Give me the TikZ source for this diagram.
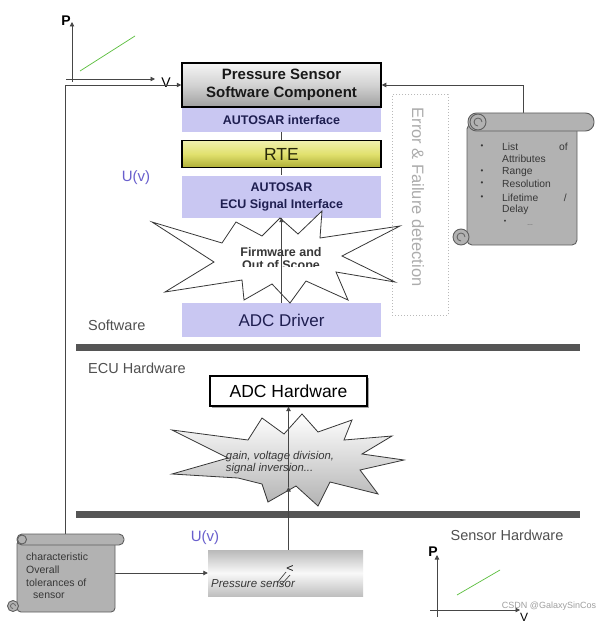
\documentclass[tikz,border=0pt]{standalone}
\usepackage{fontspec}
\setmainfont{Liberation Sans}
\usetikzlibrary{arrows.meta,shadows}
\definecolor{lav}{RGB}{201,199,242}
\definecolor{navy}{RGB}{30,30,80}
\definecolor{uvcol}{RGB}{105,95,205}
\definecolor{linec}{RGB}{70,70,70}
\definecolor{scrollf}{RGB}{178,178,178}
\definecolor{scrolld}{RGB}{95,95,95}
\definecolor{labgray}{RGB}{80,80,80}
\definecolor{txtdark}{RGB}{55,55,55}
\definecolor{rteTop}{RGB}{240,240,175}
\definecolor{rteBot}{RGB}{175,175,55}
\definecolor{rteMid}{RGB}{225,225,110}
\definecolor{greenl}{RGB}{90,190,60}
\definecolor{barc}{RGB}{85,85,85}
\begin{document}
\begin{tikzpicture}[x=1pt,y=-1pt,
  conn/.style={draw=linec, line width=0.8pt},
  arr/.style={conn, -{Triangle[length=4.5pt,width=4.5pt]}},
  lavbox/.style={fill=lav, minimum width=199pt, inner sep=0pt, text=navy, align=center},
  secl/.style={text=labgray, inner sep=0pt, font=\fontsize{14.5}{16}\selectfont},
  uv/.style={text=uvcol, inner sep=0pt, font=\fontsize{15}{17}\selectfont},
  sepbar/.style={draw=barc, line width=7pt},
  scrollsh/.style={fill=scrollf, draw=scrolld, line width=0.9pt},
  scrolltxt/.style={text=txtdark, inner sep=0pt, anchor=west},
  burst/.style={draw=txtdark, line width=0.8pt},
  axlab/.style={inner sep=0pt, font=\bfseries\fontsize{14}{16}\selectfont}
]
\useasboundingbox (0,0) rectangle (602,623);
\fill[white] (0,0) rectangle (602,623);

% ---- top-left P/V graph
\coordinate (ya1) at (72,82);
\coordinate (yb1) at (72,22);
\coordinate (xa1) at (66,79);
\coordinate (xb1) at (155,79);
\draw[arr] (ya1) -- (yb1);
\draw[arr] (xa1) -- (xb1);
\node[axlab] (p1) at (66,21) {P};
\node[inner sep=0pt, font=\fontsize{14}{16}\selectfont] (v1) at (166,83) {V};
\draw[greenl, line width=0.7pt] (80,71) -- (135,36);

% ---- bottom-right P/V graph
\coordinate (ya2) at (437,617);
\coordinate (yb2) at (437,555);
\coordinate (xa2) at (430,610);
\coordinate (xb2) at (520,610);
\draw[arr] (ya2) -- (yb2);
\draw[arr] (xa2) -- (xb2);
\node[axlab] (p2) at (433,552) {P};
\node[inner sep=0pt, font=\fontsize{12}{14}\selectfont] (v2) at (524,617) {V};
\draw[greenl, line width=0.7pt] (457,595) -- (500,570);

% ---- software stack
\node[draw=black, line width=1.5pt, top color=gray!8, bottom color=gray!75, middle color=gray!35,
  minimum width=199pt, minimum height=44pt, inner sep=0pt, align=center,
  text={rgb,255:red,25;green,25;blue,25}, font=\bfseries\fontsize{15}{18}\selectfont]
  (swc) at (281.5,85) {Pressure Sensor\\Software Component};
\node[lavbox, minimum height=24pt, font=\bfseries\fontsize{12.5}{15}\selectfont] (aif) at (281.5,120) {AUTOSAR interface};
\node[draw=black, line width=1.2pt, top color=rteTop, bottom color=rteBot, middle color=rteMid,
  minimum width=199pt, minimum height=27pt, inner sep=0pt, font=\fontsize{17.5}{20}\selectfont,
  text={rgb,255:red,40;green,40;blue,10}] (rte) at (281.5,154) {RTE};
\node[lavbox, minimum height=42pt, font=\bfseries\fontsize{12.5}{17}\selectfont] (ecu) at (281.5,196.5) {AUTOSAR\\ECU Signal Interface};
\node[lavbox, minimum height=34pt, font=\fontsize{17}{20}\selectfont] (adcd) at (281.5,320) {ADC Driver};
\draw[conn] (aif.south) -- (rte.north);
\draw[conn] (rte.south) -- (ecu.north);

% firmware burst
\path[burst, fill=white] (152,222) -- (222,243) -- (236,222) -- (262,236) -- (280,218) -- (298,234)
  -- (322,211) -- (320,238) -- (400,226) -- (342,256) -- (395,282) -- (336,272) -- (348,300)
  -- (306,281) -- (290,303) -- (272,284) -- (244,300) -- (242,280) -- (165,292) -- (214,262) -- cycle;
\node[inner sep=0pt, text=txtdark, font=\bfseries\fontsize{12.5}{14}\selectfont] (fw1) at (281,252) {Firmware and};
\begin{scope}
  \clip (200,255) rectangle (360,266.5);
  \node[inner sep=0pt, text=txtdark, font=\bfseries\fontsize{12.5}{14}\selectfont] (fw2) at (281,266) {Out of Scope};
\end{scope}
\draw[arr] (adcd.north) -- (ecu.south);

% error & failure detection
\node[draw=gray!55, dotted, line width=1pt, minimum width=56pt, minimum height=220pt, inner sep=0pt] (err) at (420,205) {};
\node[rotate=-90, inner sep=0pt, text=gray!65, font=\fontsize{16.5}{18}\selectfont] (errt) at (418,197) {Error \& Failure detection};

% labels
\node[uv] (uv1) at (136,178) {U(v)};
\node[uv] (uv2) at (205,538) {U(v)};
\node[secl, anchor=west] (swl) at (88,325) {Software};
\node[secl, anchor=west] (ecul) at (88,368) {ECU Hardware};
\node[secl] (shl) at (507,535) {Sensor Hardware};

% bars
\draw[sepbar] (76,347) -- (580,347);
\draw[sepbar] (76,514) -- (580,514);

% ---- hardware
\node[draw=black, line width=1.3pt, fill=white, minimum width=157pt, minimum height=30pt, inner sep=0pt,
  font=\fontsize{17.5}{20}\selectfont,
  drop shadow={shadow xshift=2pt, shadow yshift=-2pt, fill=gray!70, opacity=1}] (adch) at (288.5,391) {ADC Hardware};
\path[burst, top color=white, bottom color=gray!60] (172,430) -- (248,440) -- (262,418) -- (284,434) -- (302,414)
  -- (318,432) -- (352,420) -- (344,440) -- (392,436) -- (362,454) -- (404,460) -- (360,470)
  -- (378,494) -- (330,482) -- (318,506) -- (296,486) -- (268,502) -- (262,484) -- (238,478)
  -- (172,474) -- (228,458) -- cycle;
\node[inner sep=0pt, align=left, text=txtdark, font=\itshape\fontsize{11.3}{12}\selectfont] (gaint) at (280,463) {gain, voltage division,\\signal inversion...};

\node[minimum width=155pt, minimum height=46pt, inner sep=0pt, top color=gray!55, bottom color=gray!50, middle color=gray!5] (ps) at (285.5,573) {};
\node[inner sep=0pt, anchor=west, text=txtdark, font=\itshape\fontsize{11.5}{13}\selectfont] (pst) at (211,584) {Pressure sensor};
\node[rotate=-90, inner sep=0pt, font=\fontsize{9}{9}\selectfont] (psv) at (290,568) {V};
\draw[linec, line width=0.7pt] (277,583) -- (286,572);
\draw[linec, line width=0.7pt] (281,585) -- (290,575);

\coordinate (gb) at (288.5,487);
\draw[arr] (ps.north -| adch.south) -- (gb);
\draw[arr] (gb) -- (adch.south);

% ---- loops
\coordinate (cstop) at (65,535);
\coordinate (lc) at (65,85);
\draw[arr] (cstop) -- (lc) -- (swc.west);
\coordinate (lstop) at (523,113);
\coordinate (rc) at (523,85);
\draw[arr] (lstop) -- (rc) -- (swc.east);
\coordinate (csr) at (115,573);
\draw[arr] (csr) -- (ps.west);

% ---- list scroll
\path[scrollsh, rounded corners=5pt] (467,124) rectangle (577,245);
\path[scrollsh, rounded corners=8.5pt] (468,113) rectangle (594,131);
\path[scrollsh] (478,122) circle (8pt);
\draw[scrolld, line width=0.8pt] (482,122) arc (0:270:4pt);
\path[scrollsh] (461,237) circle (8pt);
\draw[scrolld, line width=0.8pt] (465,237) arc (0:270:4pt);
\foreach \yy in {147,172,184,198} { \node[inner sep=0pt, text=txtdark, font=\fontsize{8}{9}\selectfont] at (482,\yy) {•}; }
\begin{scope}[font=\fontsize{10.3}{12}\selectfont]
\node[scrolltxt] (l1) at (502,147) {List};
\node[scrolltxt, anchor=east] (l1b) at (568,147) {of};
\node[scrolltxt] (l2) at (502,159) {Attributes};
\node[scrolltxt] (l3) at (502,172) {Range};
\node[scrolltxt] (l4) at (502,184) {Resolution};
\node[scrolltxt] (l5) at (502,198) {Lifetime};
\node[scrolltxt, anchor=east] (l5b) at (567,198) {/};
\node[scrolltxt] (l6) at (502,210) {Delay};
\node[inner sep=0pt, text=txtdark, font=\fontsize{7}{8}\selectfont] (l7) at (505,222) {•};
\node[inner sep=0pt, text=txtdark, font=\fontsize{6}{7}\selectfont] (l8) at (530,225) {\ldots};
\end{scope}

% ---- characteristic scroll
\path[scrollsh, rounded corners=4pt] (17,540) rectangle (115,612);
\path[scrollsh, rounded corners=5pt] (17,534) rectangle (124,545);
\path[scrollsh] (22,539.5) circle (4.5pt);
\path[scrollsh] (13,606) circle (5.5pt);
\draw[scrolld, line width=0.7pt] (15.5,606) arc (0:270:2.5pt);
\begin{scope}[font=\fontsize{10.5}{12}\selectfont]
\node[scrolltxt] (c1) at (26,557) {characteristic};
\node[scrolltxt] (c2) at (26,570) {Overall};
\node[scrolltxt] (c3) at (26,583) {tolerances of};
\node[scrolltxt] (c4) at (33,596) {sensor};
\end{scope}

% watermark
\node[inner sep=0pt, text=gray!75, font=\fontsize{9}{10}\selectfont] (wm) at (549,606) {CSDN @GalaxySinCos};
\end{tikzpicture}
\end{document}
